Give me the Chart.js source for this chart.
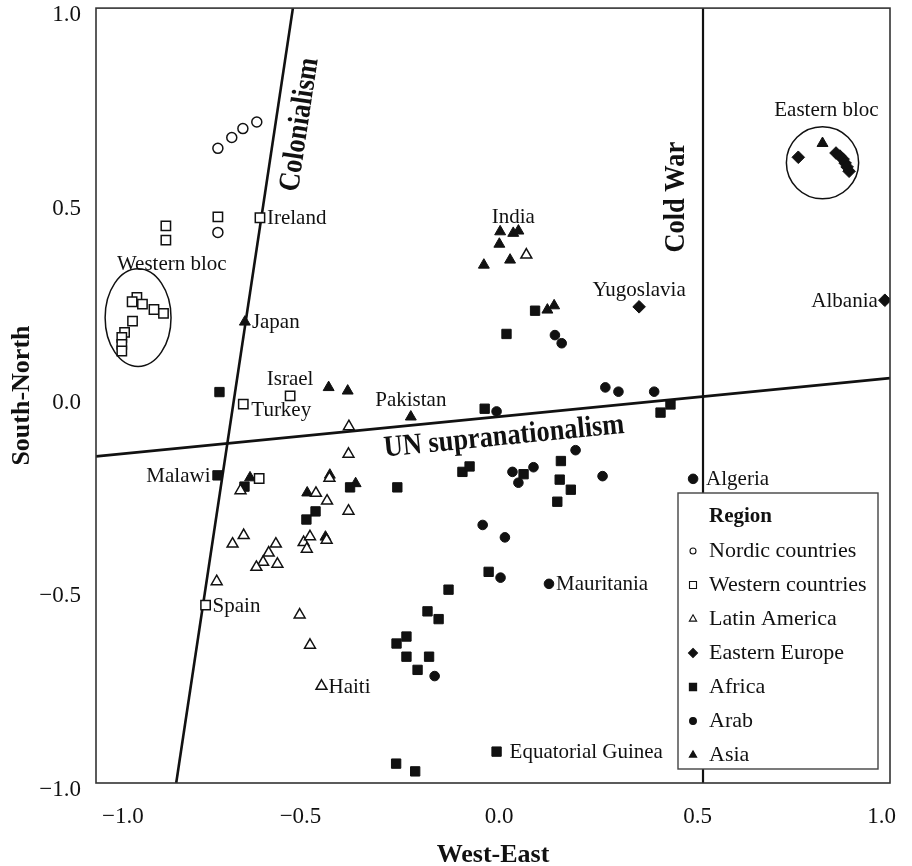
<!DOCTYPE html>
<html lang="en">
<head>
<meta charset="UTF-8">
<title>West-East / South-North</title>
<style>
  html, body { margin: 0; padding: 0; background: #fff; }
</style>
</head>
<body>
<canvas id="myChart" width="912" height="866"></canvas>

<script src="https://cdn.jsdelivr.net/npm/chart.js"></script>
<script>
// axis ticks
const tickValues = [-1.0, -0.5, 0.0, 0.5, 1.0];

// one array of [west-east, south-north] per region
const regionNames = ['Nordic countries', 'Western countries', 'Latin America', 'Eastern Europe', 'Africa', 'Arab', 'Asia'];

const nordic = [[-0.693, 0.638], [-0.658, 0.666], [-0.630, 0.689], [-0.595, 0.706], [-0.693, 0.421]];

const western = [
  [-0.824, 0.438], [-0.824, 0.401], [-0.693, 0.461], [-0.587, 0.459],
  [-0.897, 0.253], [-0.909, 0.242], [-0.883, 0.236], [-0.854, 0.222], [-0.830, 0.212],
  [-0.908, 0.192], [-0.928, 0.163], [-0.935, 0.150], [-0.935, 0.132], [-0.935, 0.115],
  [-0.511, -0.001], [-0.629, -0.022], [-0.589, -0.214], [-0.724, -0.541]
];

const latin = [
  [-0.363, -0.080], [-0.364, -0.151], [-0.412, -0.213], [-0.636, -0.245], [-0.446, -0.252],
  [-0.418, -0.272], [-0.364, -0.298], [-0.628, -0.361], [-0.656, -0.383], [-0.547, -0.383],
  [-0.565, -0.406], [-0.579, -0.430], [-0.596, -0.443], [-0.543, -0.435], [-0.477, -0.379],
  [-0.461, -0.364], [-0.469, -0.396], [-0.419, -0.373], [-0.696, -0.480], [-0.487, -0.566],
  [-0.461, -0.644], [-0.432, -0.750], [0.084, 0.363]
];

const eastern = [
  [0.769, 0.615], [0.864, 0.626], [0.874, 0.618], [0.882, 0.610], [0.887, 0.600],
  [0.892, 0.590], [0.897, 0.579], [0.368, 0.229], [0.987, 0.246]
];

const africa = [
  [-0.689, 0.009], [-0.694, -0.206], [-0.626, -0.235], [-0.360, -0.237], [-0.447, -0.299],
  [-0.470, -0.320], [-0.241, -0.237], [-0.077, -0.197], [-0.059, -0.183], [0.077, -0.203],
  [0.171, -0.169], [0.168, -0.217], [0.196, -0.243], [0.162, -0.274], [0.106, 0.219],
  [0.034, 0.159], [-0.021, -0.034], [0.422, -0.044], [0.447, -0.023], [-0.011, -0.455],
  [-0.112, -0.501], [-0.165, -0.557], [-0.137, -0.577], [-0.218, -0.622], [-0.243, -0.640],
  [-0.218, -0.674], [-0.161, -0.674], [-0.190, -0.708], [-0.244, -0.950], [-0.196, -0.970],
  [0.009, -0.919]
];

const arab = [
  [0.156, 0.156], [0.173, 0.135], [0.283, 0.021], [0.316, 0.010], [0.406, 0.010],
  [0.009, -0.041], [0.208, -0.141], [0.049, -0.197], [0.064, -0.225], [0.102, -0.185],
  [0.276, -0.208], [0.504, -0.215], [-0.026, -0.334], [0.030, -0.366], [0.019, -0.470],
  [0.141, -0.486], [-0.147, -0.724]
];

const asia = [
  [0.830, 0.651], [-0.625, 0.190], [-0.414, 0.021], [-0.366, 0.012], [-0.207, -0.055],
  [-0.411, -0.205], [-0.612, -0.212], [-0.468, -0.251], [-0.346, -0.227], [-0.422, -0.365],
  [0.018, 0.423], [0.051, 0.419], [0.064, 0.425], [0.016, 0.391], [0.043, 0.350],
  [-0.023, 0.337], [0.137, 0.221], [0.154, 0.232]
];

// dividing lines, two end points each
const colonialismLine = [[-0.798, -1.0], [-0.504, 1.0]];
const coldWarLine = [[0.529, -1.0], [0.529, 1.0]];
const unLine = [[-1.0, -0.157], [1.0, 0.045]];

// named countries: text, x, y, side of the point
const countryLabels = [
  ['Ireland', -0.587, 0.459, 'right'],
  ['Japan', -0.625, 0.190, 'right'],
  ['Israel', -0.511, -0.001, 'above'],
  ['Turkey', -0.629, -0.022, 'rightLow'],
  ['Pakistan', -0.207, -0.055, 'above'],
  ['India', 0.051, 0.419, 'above'],
  ['Yugoslavia', 0.368, 0.229, 'above'],
  ['Albania', 0.987, 0.246, 'left'],
  ['Malawi', -0.694, -0.206, 'left'],
  ['Spain', -0.724, -0.541, 'right'],
  ['Haiti', -0.432, -0.750, 'right'],
  ['Algeria', 0.504, -0.215, 'farRight'],
  ['Mauritania', 0.141, -0.486, 'right'],
  ['Equatorial Guinea', 0.009, -0.919, 'farRight']
];

// blocs: name, ellipse centre x, y, radius x, radius y, label x, y
const blocs = [
  ['Western bloc', -0.894, 0.201, 0.083, 0.126, -0.809, 0.339],
  ['Eastern bloc', 0.830, 0.601, 0.091, 0.093, 0.840, 0.737]
];

// line names: text, centre x, y, line it follows
const lineNames = [
  ['Colonialism', -0.486, 0.699, colonialismLine],
  ['Cold War', 0.461, 0.512, coldWarLine],
  ['UN supranationalism', 0.028, -0.107, unLine]
];

const serif = '"Liberation Serif", "Times New Roman", serif';
const ink = '#111';

const toXY = arr => arr.map(p => ({ x: p[0], y: p[1] }));
const fmt = v => (v < 0 ? '\u2212' : '') + Math.abs(v).toFixed(1);

const markerStyles = [
  { pointStyle: 'circle', pointRadius: 5, filled: false, legendR: 3 },
  { pointStyle: 'rect', pointRadius: 6.6, filled: false, legendR: 3.5 },
  { pointStyle: 'triangle', pointRadius: 6.3, filled: false, legendR: 4.2 },
  { pointStyle: 'rectRot', pointRadius: 6.3, filled: true, legendR: 4.5 },
  { pointStyle: 'rect', pointRadius: 6.6, filled: true, legendR: 3.6 },
  { pointStyle: 'circle', pointRadius: 4.8, filled: true, legendR: 3.4 },
  { pointStyle: 'triangle', pointRadius: 6.3, filled: true, legendR: 4.2 }
];

const regionData = [nordic, western, latin, eastern, africa, arab, asia];

const datasets = regionData.map((arr, i) => ({
  label: regionNames[i],
  data: toXY(arr),
  pointStyle: markerStyles[i].pointStyle,
  pointRadius: markerStyles[i].pointRadius,
  backgroundColor: markerStyles[i].filled ? ink : '#fff',
  borderColor: ink,
  borderWidth: markerStyles[i].filled ? 1 : 1.5
}));

[colonialismLine, coldWarLine, unLine].forEach((ln, i) => {
  datasets.push({
    label: 'line' + i,
    data: toXY(ln),
    showLine: true,
    pointRadius: 0,
    borderColor: ink,
    borderWidth: i === 1 ? 2.2 : 2.6
  });
});

function marker(ctx, style, cx, cy, r, filled) {
  ctx.beginPath();
  if (style === 'circle') {
    ctx.arc(cx, cy, r, 0, Math.PI * 2);
  } else if (style === 'rect') {
    ctx.rect(cx - r, cy - r, 2 * r, 2 * r);
  } else if (style === 'rectRot') {
    ctx.moveTo(cx, cy - r); ctx.lineTo(cx + r, cy); ctx.lineTo(cx, cy + r); ctx.lineTo(cx - r, cy);
  } else {
    ctx.moveTo(cx, cy - r); ctx.lineTo(cx + r * 0.866, cy + r * 0.5); ctx.lineTo(cx - r * 0.866, cy + r * 0.5);
  }
  ctx.closePath();
  ctx.fillStyle = filled ? ink : '#fff';
  ctx.fill();
  ctx.lineWidth = 1.1;
  ctx.strokeStyle = ink;
  ctx.stroke();
}

const annotations = {
  id: 'annotations',
  afterDatasetsDraw(chart) {
    const { ctx, chartArea: a, scales: { x, y } } = chart;
    ctx.save();

    // frame
    ctx.strokeStyle = '#333';
    ctx.lineWidth = 1.6;
    ctx.strokeRect(a.left, a.top, a.right - a.left, a.bottom - a.top);

    // blocs
    ctx.fillStyle = ink;
    ctx.strokeStyle = ink;
    blocs.forEach(b => {
      const cx = x.getPixelForValue(b[1]), cy = y.getPixelForValue(b[2]);
      const rx = Math.abs(x.getPixelForValue(b[1] + b[3]) - cx);
      const ry = Math.abs(y.getPixelForValue(b[2] + b[4]) - cy);
      ctx.beginPath();
      ctx.ellipse(cx, cy, rx, ry, 0, 0, Math.PI * 2);
      ctx.lineWidth = 1.5;
      ctx.stroke();
      ctx.font = '21px ' + serif;
      ctx.textAlign = 'center';
      ctx.textBaseline = 'middle';
      ctx.fillText(b[0], x.getPixelForValue(b[5]), y.getPixelForValue(b[6]));
    });

    // country names
    ctx.font = '21px ' + serif;
    ctx.textBaseline = 'middle';
    countryLabels.forEach(l => {
      const px = x.getPixelForValue(l[1]), py = y.getPixelForValue(l[2]);
      if (l[3] === 'right') { ctx.textAlign = 'left'; ctx.fillText(l[0], px + 7, py + 1); }
      else if (l[3] === 'rightLow') { ctx.textAlign = 'left'; ctx.fillText(l[0], px + 8, py + 6); }
      else if (l[3] === 'farRight') { ctx.textAlign = 'left'; ctx.fillText(l[0], px + 13, py + 1); }
      else if (l[3] === 'left') { ctx.textAlign = 'right'; ctx.fillText(l[0], px - 7, py + 1); }
      else { ctx.textAlign = 'center'; ctx.fillText(l[0], px, py - 16); }
    });

    // line names, turned along their line
    lineNames.forEach(n => {
      const ln = n[3];
      const x0 = x.getPixelForValue(ln[0][0]), y0 = y.getPixelForValue(ln[0][1]);
      const x1 = x.getPixelForValue(ln[1][0]), y1 = y.getPixelForValue(ln[1][1]);
      const ang = Math.atan2(y1 - y0, x1 - x0);
      ctx.save();
      ctx.translate(x.getPixelForValue(n[1]), y.getPixelForValue(n[2]));
      ctx.rotate(ang);
      ctx.scale(0.88, 1);
      ctx.font = 'bold 30px ' + serif;
      ctx.textAlign = 'center';
      ctx.textBaseline = 'middle';
      ctx.fillText(n[0], 0, 0);
      ctx.restore();
    });

    ctx.restore();
  },
  afterDraw(chart) {
    // legend box in the lower right corner
    const { ctx, chartArea: a } = chart;
    const w = 200, h = 276;
    const left = a.right - 12 - w, top = a.bottom - 14 - h;
    ctx.save();
    ctx.fillStyle = '#fff';
    ctx.fillRect(left, top, w, h);
    ctx.strokeStyle = '#444';
    ctx.lineWidth = 1.4;
    ctx.strokeRect(left, top, w, h);
    ctx.fillStyle = ink;
    ctx.textBaseline = 'middle';
    ctx.textAlign = 'left';
    ctx.font = 'bold 21px ' + serif;
    ctx.fillText('Region', left + 31, top + 24);
    regionNames.forEach((name, i) => {
      const yy = top + 58 + i * 34;
      marker(ctx, markerStyles[i].pointStyle, left + 15, yy, markerStyles[i].legendR, markerStyles[i].filled);
      ctx.fillStyle = ink;
      ctx.font = '22px ' + serif;
      ctx.fillText(name, left + 31, yy);
    });
    ctx.restore();
  }
};

Chart.defaults.font.family = serif;
Chart.defaults.color = ink;

new Chart(document.getElementById('myChart'), {
  type: 'scatter',
  data: { datasets: datasets },
  options: {
    responsive: false,
    animation: false,
    events: [],
    layout: { padding: { top: 8, right: 22, left: 0, bottom: 0 } },
    plugins: { legend: { display: false }, tooltip: { enabled: false } },
    scales: {
      x: {
        min: -1, max: 1,
        afterBuildTicks: s => { s.ticks = tickValues.map(v => ({ value: v })); },
        afterFit: s => { s.height = 83; s.paddingLeft = 0; s.paddingRight = 0; },
        grid: { display: false },
        border: { display: false },
        ticks: { callback: v => fmt(v), font: { size: 23 }, padding: 12, labelOffset: 6, align: 'inner', maxRotation: 0 },
        title: { display: true, text: 'West-East', font: { size: 26, weight: 'bold', lineHeight: 0.8 }, padding: { top: 0, bottom: 0 } }
      },
      y: {
        min: -1, max: 1,
        afterBuildTicks: s => { s.ticks = tickValues.map(v => ({ value: v })); },
        afterFit: s => { s.width = 96; s.paddingTop = 0; s.paddingBottom = 0; },
        grid: { display: false },
        border: { display: false },
        ticks: { callback: v => fmt(v), font: { size: 23 }, padding: 7, labelOffset: 7 },
        title: { display: true, text: 'South-North', font: { size: 26, weight: 'bold', lineHeight: 1 }, padding: { top: 9, bottom: 0 } }
      }
    }
  },
  plugins: [annotations]
});
</script>
</body>
</html>
